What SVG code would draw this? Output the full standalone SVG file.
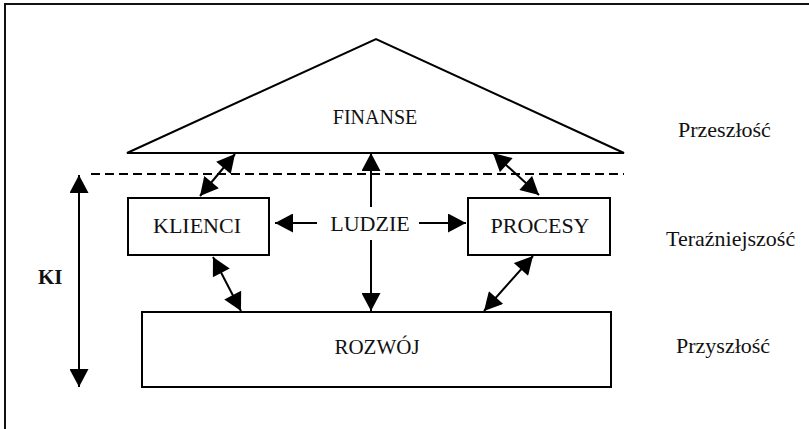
<svg xmlns="http://www.w3.org/2000/svg" width="809" height="429" viewBox="0 0 809 429">
  <defs>
    <marker id="ah" markerUnits="userSpaceOnUse" markerWidth="19" markerHeight="19" viewBox="0 0 18 19" refX="18" refY="9.5" orient="auto-start-reverse">
      <path d="M0,0 L18,9.5 L0,19 z" fill="#000"/>
    </marker>
    <style>
      .shape { fill: #fff; stroke: #000; stroke-width: 2; }
      text { font-family: 'Liberation Serif', 'Times New Roman', serif; fill: #111; }
      .conn line { stroke: #000; stroke-width: 2; }
    </style>
  </defs>
  <rect x="0" y="0" width="809" height="429" fill="#fff"/>
  <rect id="frame" x="5" y="4" width="900" height="500" fill="none" stroke="#111" stroke-width="2"/>

  <g id="finanse">
    <polygon class="shape" points="127,153 376,39 624,153"/>
    <text x="375" y="124" font-size="20" text-anchor="middle">FINANSE</text>
  </g>
  <g id="klienci">
    <rect class="shape" x="128" y="198" width="141" height="57"/>
    <text x="197" y="233" font-size="22" text-anchor="middle">KLIENCI</text>
  </g>
  <g id="ludzie">
    <text x="370" y="231" font-size="22" text-anchor="middle">LUDZIE</text>
  </g>
  <g id="procesy">
    <rect class="shape" x="468" y="198" width="142" height="57"/>
    <text x="540" y="233" font-size="22" text-anchor="middle">PROCESY</text>
  </g>
  <g id="rozwoj">
    <rect class="shape" x="142" y="312" width="469" height="75"/>
    <text x="377" y="354" font-size="21" text-anchor="middle">ROZWÓJ</text>
  </g>
  <g id="labels">
    <text x="678" y="137" font-size="22">Przeszłość</text>
    <text x="666" y="246" font-size="22">Teraźniejszość</text>
    <text x="676" y="353" font-size="22">Przyszłość</text>
    <text x="38" y="284" font-size="21" font-weight="bold">KI</text>
  </g>

  <g id="connectors" class="conn">
    <line x1="91" y1="174" x2="624" y2="174" stroke-dasharray="9 5"/>
    <line x1="79" y1="175" x2="79" y2="387" marker-start="url(#ah)" marker-end="url(#ah)"/>
    <line x1="293" y1="223" x2="275" y2="223" marker-end="url(#ah)"/>
    <line x1="293" y1="223" x2="317" y2="223"/>
    <line x1="419" y1="223" x2="466" y2="223" marker-end="url(#ah)"/>
    <line x1="371" y1="207" x2="371" y2="153" marker-end="url(#ah)"/>
    <line x1="371" y1="240" x2="371" y2="311" marker-end="url(#ah)"/>
    <line x1="235" y1="154" x2="200" y2="196" marker-start="url(#ah)" marker-end="url(#ah)"/>
    <line x1="493" y1="153" x2="539" y2="195" marker-start="url(#ah)" marker-end="url(#ah)"/>
    <line x1="213" y1="257" x2="241" y2="311" marker-start="url(#ah)" marker-end="url(#ah)"/>
    <line x1="533" y1="256" x2="484" y2="311" marker-start="url(#ah)" marker-end="url(#ah)"/>
  </g>
</svg>
